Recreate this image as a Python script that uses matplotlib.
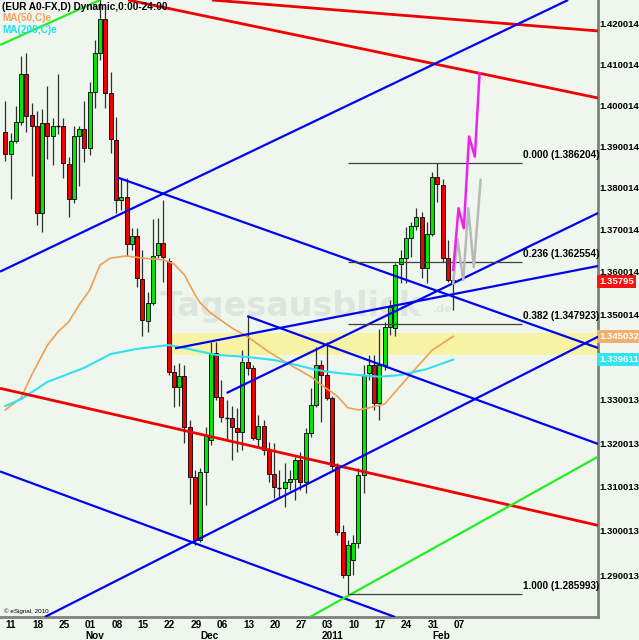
import numpy as np
import matplotlib
matplotlib.use("Agg")
import matplotlib.pyplot as plt
import matplotlib.ticker as mticker
import matplotlib.transforms as mtransforms
from matplotlib.patches import Rectangle
from matplotlib import font_manager

# EUR/USD daily candles, bar 0 = Mon 11 Oct 2010 ... bar 85 = Mon 7 Feb 2011 (weekdays)
opens = [1.3937, 1.3884, 1.3917, 1.3961, 1.4080, 1.3979, 1.3952, 1.3742, 1.3959, 1.3927,
         1.3953, 1.3953, 1.3860, 1.3775, 1.3929, 1.3945, 1.3898, 1.4035, 1.4132, 1.4215,
         1.4032, 1.3918, 1.3774, 1.3782, 1.3668, 1.3688, 1.3585, 1.3487, 1.3529, 1.3642,
         1.3671, 1.3627, 1.3366, 1.3333, 1.3358, 1.3240, 1.3124, 1.2982, 1.3137, 1.3210,
         1.3412, 1.3308, 1.3261, 1.3260, 1.3238, 1.3227, 1.3391, 1.3376, 1.3211, 1.3243,
         1.3187, 1.3132, 1.3100, 1.3099, 1.3114, 1.3120, 1.3164, 1.3114, 1.3225, 1.3290,
         1.3384, 1.3360, 1.3306, 1.3148, 1.3000, 1.2903, 1.2936, 1.2974, 1.3130, 1.3364,
         1.3384, 1.3294, 1.3384, 1.3473, 1.3469, 1.3621, 1.3635, 1.3683, 1.3712, 1.3732,
         1.3611, 1.3693, 1.3828, 1.3810, 1.3635, 1.3584]
highs = [1.4013, 1.3936, 1.4002, 1.4124, 1.4131, 1.4008, 1.3990, 1.3994, 1.4051, 1.3972,
         1.4080, 1.3972, 1.3878, 1.3953, 1.3953, 1.4013, 1.4059, 1.4163, 1.4272, 1.4240,
         1.4085, 1.3974, 1.3827, 1.3827, 1.3707, 1.3707, 1.3654, 1.3555, 1.3728, 1.3730,
         1.3774, 1.3635, 1.3384, 1.3387, 1.3384, 1.3256, 1.3141, 1.3145, 1.3240, 1.3438,
         1.3438, 1.3349, 1.3302, 1.3287, 1.3283, 1.3418, 1.3498, 1.3384, 1.3267, 1.3256,
         1.3206, 1.3202, 1.3141, 1.3157, 1.3141, 1.3171, 1.3182, 1.3238, 1.3330, 1.3426,
         1.3395, 1.3436, 1.3311, 1.3156, 1.3016, 1.2982, 1.2993, 1.3145, 1.3384, 1.3407,
         1.3407, 1.3467, 1.3484, 1.3536, 1.3624, 1.3654, 1.3710, 1.3722, 1.3754, 1.3746,
         1.3721, 1.3842, 1.3862, 1.3824, 1.3678, 1.3599]
lows = [1.3868, 1.3776, 1.3911, 1.3955, 1.3939, 1.3832, 1.3713, 1.3698, 1.3873, 1.3858,
        1.3933, 1.3827, 1.3734, 1.3766, 1.3808, 1.3864, 1.3882, 1.3996, 1.4114, 1.3996,
        1.3888, 1.3743, 1.3750, 1.3641, 1.3654, 1.3566, 1.3450, 1.3461, 1.3524, 1.3635,
        1.3579, 1.3360, 1.3285, 1.3287, 1.3202, 1.3063, 1.2970, 1.2978, 1.3061, 1.3198,
        1.3302, 1.3252, 1.3210, 1.3164, 1.3183, 1.3187, 1.3360, 1.3210, 1.3194, 1.3175,
        1.3114, 1.3076, 1.3076, 1.3056, 1.3095, 1.3072, 1.3095, 1.3088, 1.3217, 1.3286,
        1.3252, 1.3302, 1.3141, 1.2993, 1.2896, 1.2860, 1.2903, 1.2963, 1.3088, 1.3349,
        1.3279, 1.3256, 1.3372, 1.3454, 1.3450, 1.3575, 1.3575, 1.3638, 1.3702, 1.3587,
        1.3575, 1.3688, 1.3770, 1.3626, 1.3578, 1.3512]
closes = [1.3884, 1.3917, 1.3961, 1.4080, 1.3977, 1.3953, 1.3742, 1.3959, 1.3927, 1.3953,
          1.3952, 1.3862, 1.3775, 1.3927, 1.3945, 1.3898, 1.4035, 1.4132, 1.4215, 1.4032,
          1.3920, 1.3774, 1.3782, 1.3668, 1.3688, 1.3587, 1.3489, 1.3528, 1.3640, 1.3671,
          1.3638, 1.3366, 1.3333, 1.3358, 1.3240, 1.3124, 1.2982, 1.3137, 1.3221, 1.3412,
          1.3308, 1.3262, 1.3260, 1.3239, 1.3227, 1.3391, 1.3376, 1.3214, 1.3243, 1.3187,
          1.3132, 1.3101, 1.3099, 1.3113, 1.3120, 1.3164, 1.3114, 1.3225, 1.3290, 1.3384,
          1.3360, 1.3306, 1.3150, 1.3000, 1.2903, 1.2970, 1.2975, 1.3130, 1.3360, 1.3384,
          1.3294, 1.3384, 1.3473, 1.3520, 1.3619, 1.3635, 1.3683, 1.3712, 1.3732, 1.3611,
          1.3693, 1.3828, 1.3812, 1.3635, 1.3583, 1.35795]

# moving averages (bar index, value)
ma50_x = [0, 3, 5, 8, 10, 12, 14, 16, 18, 20, 23, 26, 30, 32, 34, 36, 37, 39, 43, 46,
          50, 54, 58, 60, 63, 65, 67, 69, 72, 74, 75, 78, 81, 85]
ma50_y = [1.3279, 1.3307, 1.3360, 1.3430, 1.3461, 1.3484, 1.3524, 1.3559, 1.3619, 1.3635,
          1.3640, 1.3635, 1.3631, 1.3621, 1.3595, 1.3548, 1.3529, 1.3505, 1.3470, 1.3449,
          1.3414, 1.3384, 1.3356, 1.3337, 1.3311, 1.3284, 1.3279, 1.3284, 1.3293, 1.3321,
          1.3335, 1.3377, 1.3418, 1.345032]
ma200_x = [0, 3, 8, 15, 20, 25, 31, 34, 40, 46, 51, 55, 59, 63, 67, 71, 75, 80, 85]
ma200_y = [1.3288, 1.3304, 1.3344, 1.3377, 1.3409, 1.3421, 1.3430, 1.3423, 1.3407, 1.3402,
           1.3395, 1.3384, 1.3372, 1.3365, 1.3360, 1.3356, 1.3360, 1.3374, 1.339611]

# drawn trend lines: (bar0, price0, bar1, price1, colour)
trendlines = [
    (39.2, 1.42621, 112.5, 1.41854, 'red'),
    (23.3, 1.42621, 112.5, 1.40206, 'red'),
    (-1.0, 1.33292, 112.5, 1.30145, 'red'),
    (-1.0, 1.36028, 106.8, 1.42621, 'blue'),
    (21.4, 1.38274, 112.5, 1.34231, 'blue'),
    (45.9, 1.34980, 112.5, 1.32005, 'blue'),
    (-1.0, 1.31375, 73.95, 1.28085, 'blue'),
    (7.5, 1.28085, 112.5, 1.34496, 'blue'),
    (32.2, 1.34222, 112.5, 1.36163, 'blue'),
    (42.0, 1.33183, 112.5, 1.37426, 'blue'),
    (-1.0, 1.41508, 18.0, 1.42621, 'green'),
    (57.8, 1.28085, 112.5, 1.31714, 'green'),
]
line_colors = {'red': '#ee0000', 'blue': '#0000f0', 'green': '#22ee22'}

# fibonacci retracement
fib_ratio = ['0.000', '0.236', '0.382', '1.000']
fib_price = [1.386204, 1.362554, 1.347923, 1.285993]
fib_start, fib_end = 65, 98

# support zone
zone_lo, zone_hi, zone_start = 1.34068, 1.34576, 31

# projected paths
proj_x = [85, 86, 87, 88, 89.1, 90]
proj_y = [1.36068, 1.37539, 1.37061, 1.39268, 1.38781, 1.40812]
alt_x = [85, 85.8, 86.9, 87.85, 88.9, 90.2]
alt_y = [1.3575, 1.3680, 1.3583, 1.3754, 1.3613, 1.3822]

yticks = [1.290013, 1.300013, 1.310013, 1.320013, 1.330013, 1.350014, 1.360014,
          1.370014, 1.380014, 1.390014, 1.400014, 1.410014, 1.420014]
days = ['11', '18', '25', '01', '08', '15', '22', '29', '06', '13', '20', '27',
        '03', '10', '17', '24', '31', '07']
months = [('Nov', 15), ('Dec', 37), ('2011', 60), ('Feb', 81)]

last_price = 1.35795
ma50_last, ma200_last = 1.345032, 1.339611

names = {f.name for f in font_manager.fontManager.ttflist}
if 'Liberation Sans Narrow' in names:
    fam, fs, fs2 = 'Liberation Sans Narrow', 8.0, 8.0
else:
    fam, fs, fs2 = 'Liberation Sans', 6.8, 7.2
plt.rcParams['font.family'] = [fam, 'DejaVu Sans']

bg = '#eef6ee'
fig = plt.figure(figsize=(6.39, 6.40), dpi=100, facecolor=bg)
ax = fig.add_axes([0, 23 / 640, 598 / 639, 617 / 640], facecolor=bg)
ax.set_yscale('log')
ax.set_xlim(-1.006, 112.47)
ax.set_ylim(1.28085, 1.42621)
ax.yaxis.set_major_locator(mticker.NullLocator())
ax.yaxis.set_minor_locator(mticker.NullLocator())
ax.set_xticks([])
for s in ['top', 'left']:
    ax.spines[s].set_visible(False)
for s in ['right', 'bottom']:
    ax.spines[s].set_color('#808080')
    ax.spines[s].set_linewidth(2)

# zone + watermark
ax.add_patch(Rectangle((zone_start, zone_lo), 120, zone_hi - zone_lo,
                       facecolor='#f6f3a4', edgecolor='none', zorder=0.5))
ax.text(29.4, 1.3498, 'Tagesausblick', fontsize=24, fontweight='bold',
        family='DejaVu Sans', color='#dee5de', ha='left', va='baseline', zorder=0.6)
ax.text(81.2, 1.3508, '.de', fontsize=8, fontweight='bold',
        family='DejaVu Sans', color='#dee5de', ha='left', va='baseline', zorder=0.6)

# candles
for i in range(len(opens)):
    o, h, l, c = opens[i], highs[i], lows[i], closes[i]
    ax.vlines(i, l, h, color='#303030', lw=0.9, zorder=3)
    lo, hi = min(o, c), max(o, c)
    if hi - lo < 0.00012:
        ax.hlines(o, i - 0.38, i + 0.38, color='black', lw=1.0, zorder=3.5)
    else:
        col = '#00e800' if c >= o else '#ee0000'
        ax.add_patch(Rectangle((i - 0.38, lo), 0.76, hi - lo, facecolor=col,
                               edgecolor='black', lw=0.6, zorder=3.5))

# moving averages
ax.plot(ma50_x, ma50_y, color='#f0a050', lw=1.2, zorder=4)
ax.plot(ma200_x, ma200_y, color='#30e0f0', lw=1.5, zorder=4)

# trend lines
for x0, y0, x1, y1, c in trendlines:
    lw = 2.0 if c == 'red' else 1.6
    ax.plot([x0, x1], [y0, y1], color=line_colors[c], lw=lw, zorder=5,
            solid_capstyle='butt')

# fibonacci
for r, p in zip(fib_ratio, fib_price):
    ax.hlines(p, fib_start, fib_end, color='#404040', lw=0.9, zorder=5)
    ax.annotate('%s (%.6f)' % (r, p), (fib_end + 0.2, p), xytext=(0, 2.5),
                textcoords='offset points', fontsize=fs2, fontweight='bold',
                ha='left', va='bottom', zorder=6)

# projections
ax.plot(alt_x, alt_y, color='#b8b8b8', lw=1.8, zorder=5)
ax.plot(proj_x, proj_y, color='#ee22ee', lw=1.8, zorder=6)

# right price axis
ytr = mtransforms.blended_transform_factory(ax.transAxes, ax.transData)
for t in yticks:
    ax.text(1.002, t, '%.6f' % t, transform=ytr, fontsize=fs, fontweight='bold',
            ha='left', va='center', clip_on=False)
for val, txt, fc in [(last_price, '1.35795', '#ff1010'),
                     (ma50_last, '%.6f' % ma50_last, '#f2b070'),
                     (ma200_last, '%.6f' % ma200_last, '#30e4f2')]:
    ax.text(1.002, val, txt, transform=ytr, fontsize=fs, fontweight='bold', color='white',
            ha='left', va='center', clip_on=False,
            bbox=dict(facecolor=fc, edgecolor='none', pad=1.2))

# date axis
xtr = ax.get_xaxis_transform()
for k, d in enumerate(days):
    ax.text(k * 5 + 0.1, -0.0122, d, transform=xtr, fontsize=fs2, fontweight='bold',
            ha='left', va='center', clip_on=False)
for m, i in months:
    ax.text(i + 0.1, -0.030, m, transform=xtr, fontsize=fs2, fontweight='bold',
            ha='left', va='center', clip_on=False)

# header
fig.text(2 / 639, 1 - 7 / 640, '(EUR A0-FX,D) Dynamic,0:00-24:00', fontsize=fs2,
         fontweight='bold', va='center', ha='left')
fig.text(2 / 639, 1 - 18 / 640, 'MA(50,C)e', fontsize=fs2, fontweight='bold',
         color='#f0a060', va='center', ha='left')
fig.text(2 / 639, 1 - 30 / 640, 'MA(200,C)e', fontsize=fs2, fontweight='bold',
         color='#20e0f0', va='center', ha='left')
fig.text(4 / 639, 1 - 611 / 640, '\u00a9 eSignal, 2010', fontsize=4.5, va='center', ha='left')

fig.savefig('out.png', dpi=100, facecolor=bg)
